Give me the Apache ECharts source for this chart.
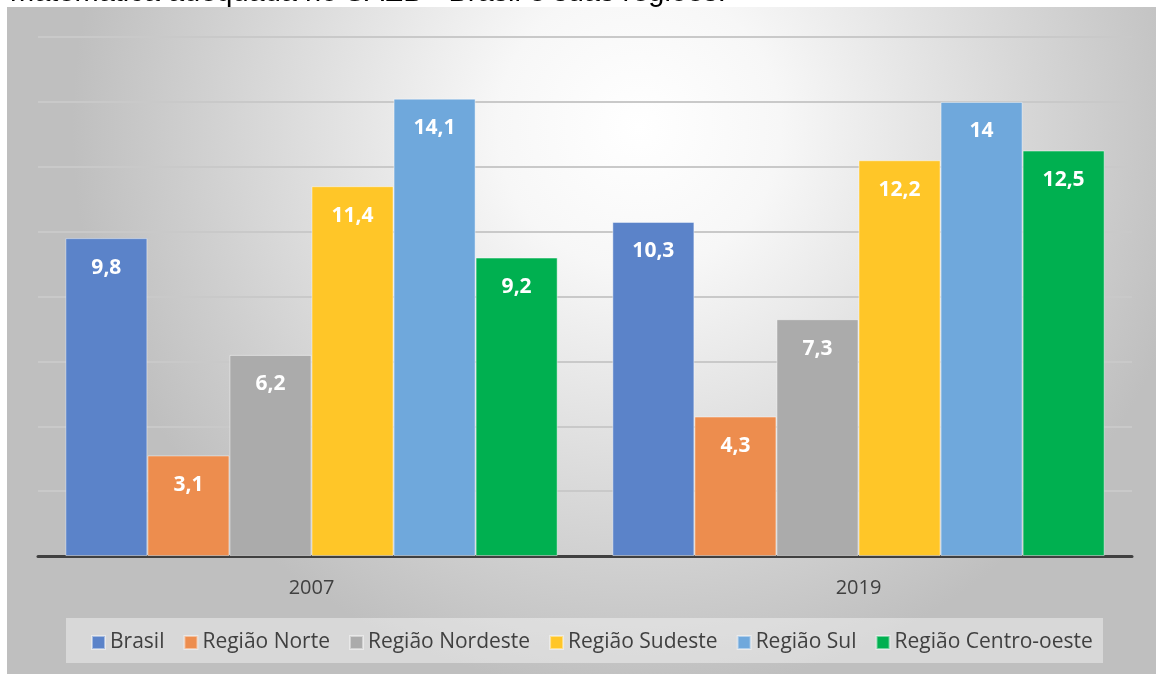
<!DOCTYPE html>
<html>
<head>
<meta charset="utf-8">
<script src="https://cdn.jsdelivr.net/npm/echarts@6/dist/echarts.min.js"></script>
<style>
  html, body { margin: 0; padding: 0; background: #fff; }
  #chart { width: 1156px; height: 674px; }
</style>
</head>
<body>
<div id="chart"></div>
<script>
// dados
const anos = ["2007", "2019"];
const regioes = ["Brasil", "Região Norte", "Região Nordeste", "Região Sudeste", "Região Sul", "Região Centro-oeste"];
const brasil = [9.8, 10.3];
const norte = [3.1, 4.3];
const nordeste = [6.2, 7.3];
const sudeste = [11.4, 12.2];
const sul = [14.1, 14];
const centroOeste = [9.2, 12.5];
const cores = ["#5B83C9", "#ED8D4E", "#ABABAB", "#FFC628", "#6FA8DC", "#00B050"];

const valores = [brasil, norte, nordeste, sudeste, sul, centroOeste];

function serie(nome, dados, cor) {
  return {
    name: nome,
    type: "bar",
    data: dados,
    barGap: "0%",
    barCategoryGap: "10%",
    itemStyle: { color: cor, borderColor: "rgba(255,255,255,0.45)", borderWidth: 1 },
    label: {
      show: true,
      position: "insideTop",
      distance: 19,
      color: "#fff",
      fontWeight: "bold",
      fontSize: 21,
      fontFamily: "Open Sans",
      formatter: p => String(p.value).replace(".", ",")
    }
  };
}

const el = document.getElementById("chart");
const em = echarts.init(el);

em.setOption({
  animation: false,
  textStyle: { fontFamily: "Open Sans" },
  graphic: [
    {
      type: "rect",
      z: -10,
      shape: { x: 7, y: 7, width: 1149, height: 667 },
      style: {
        fill: new echarts.graphic.RadialGradient(0.55, 0.18, 0.85, [
          { offset: 0, color: "#ffffff" },
          { offset: 0.25, color: "#f7f7f7" },
          { offset: 1, color: "#bfbfbf" }
        ])
      }
    },
    {
      type: "rect",
      z: -5,
      shape: { x: 66, y: 618, width: 1037, height: 45 },
      style: { fill: "rgba(255,255,255,0.4)" }
    },
    {
      type: "text",
      left: 10,
      top: -22,
      style: {
        text: "matemática adequada no SAEB - Brasil e suas regiões.",
        fill: "#000",
        fontSize: 29,
        fontFamily: "Liberation Sans"
      }
    }
  ],
  grid: { left: 38, right: 24, top: 37, bottom: 118 },
  legend: {
    data: regioes,
    bottom: 16,
    left: 86,
    itemWidth: 13,
    itemHeight: 13,
    itemGap: 19,
    icon: "rect",
    textStyle: { color: "#404040", fontSize: 21, fontFamily: "Open Sans" }
  },
  xAxis: {
    type: "category",
    data: anos,
    axisLine: { lineStyle: { color: "#404040", width: 3 } },
    axisTick: { show: false },
    axisLabel: { color: "#404040", fontSize: 20, margin: 22 }
  },
  yAxis: {
    type: "value",
    min: 0,
    max: 16,
    interval: 2,
    axisLabel: { show: false },
    axisLine: { show: false },
    axisTick: { show: false },
    splitLine: { lineStyle: { color: "#c9c9c9", width: 2 } }
  },
  series: regioes.map((r, i) => serie(r, valores[i], cores[i]))
});
</script>
</body>
</html>
